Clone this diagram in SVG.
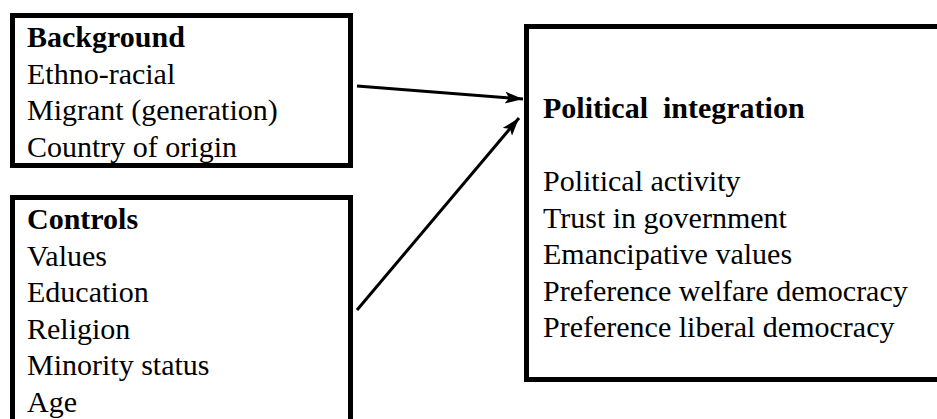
<svg xmlns="http://www.w3.org/2000/svg" width="937" height="419" viewBox="0 0 937 419">
<style>
.box{fill:#fff;stroke:#000;stroke-width:5}
.t{font-family:"Liberation Serif","Times New Roman",serif;font-size:30px;fill:#000}
.b{font-weight:bold}
.c{stroke:#000;stroke-width:3;fill:none}
</style>
<defs>
<marker id="ah" markerUnits="userSpaceOnUse" markerWidth="20" markerHeight="14" refX="18" refY="6" orient="auto">
<path d="M0,0 L18,6 L0,12 L4,6 Z" fill="#000"/>
</marker>
</defs>
<rect width="937" height="419" fill="#fff"/>
<g id="background">
<rect class="box" x="12.5" y="15.5" width="338" height="150"/>
<text class="t b" x="27" y="47">Background</text>
<text class="t" x="27" y="83.5">Ethno-racial</text>
<text class="t" x="27" y="120">Migrant (generation)</text>
<text class="t" x="27" y="156.5">Country of origin</text>
</g>
<g id="controls">
<rect class="box" x="12.5" y="197.5" width="338" height="240"/>
<text class="t b" x="27" y="229">Controls</text>
<text class="t" x="27" y="265.5">Values</text>
<text class="t" x="27" y="302">Education</text>
<text class="t" x="27" y="338.5">Religion</text>
<text class="t" x="27" y="375">Minority status</text>
<text class="t" x="27" y="411.5">Age</text>
</g>
<g id="political">
<rect class="box" x="526.5" y="26.5" width="420" height="353"/>
<text class="t b" x="543" y="118" xml:space="preserve">Political  integration</text>
<text class="t" x="543" y="191">Political activity</text>
<text class="t" x="543" y="227.5">Trust in government</text>
<text class="t" x="543" y="264">Emancipative values</text>
<text class="t" x="543" y="300.5">Preference welfare democracy</text>
<text class="t" x="543" y="337">Preference liberal democracy</text>
</g>
<g id="connectors">
<line class="c" x1="357" y1="86" x2="523" y2="99" marker-end="url(#ah)"/>
<line class="c" x1="357" y1="310" x2="519" y2="118" marker-end="url(#ah)"/>
</g>
</svg>
